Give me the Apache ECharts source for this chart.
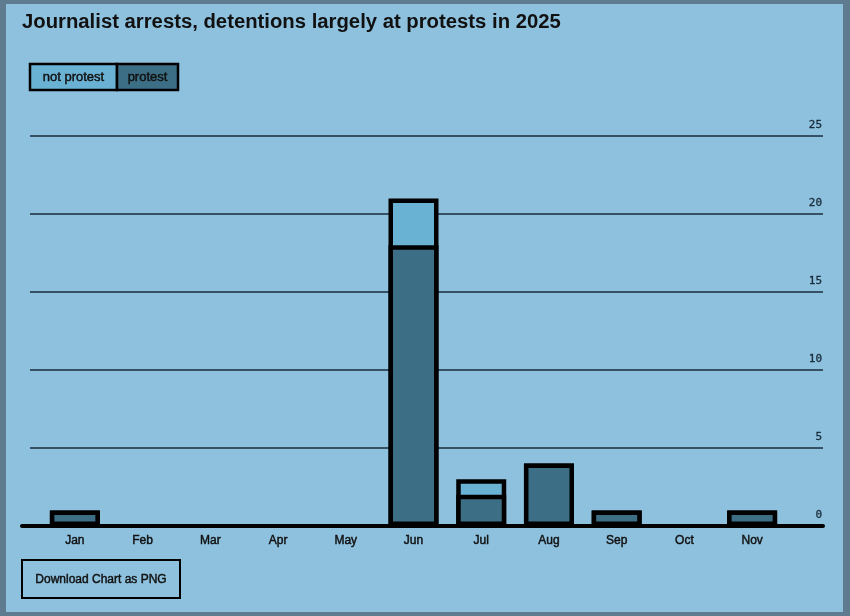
<!DOCTYPE html>
<html>
<head>
<meta charset="utf-8">
<script src="https://cdn.jsdelivr.net/npm/echarts@6/dist/echarts.min.js"></script>
<style>
html,body{margin:0;padding:0;background:#5f7b8f;}
#c{width:850px;height:616px;}
</style>
</head>
<body>
<div id="c"></div>
<script>
const titleText = "Journalist arrests, detentions largely at protests in 2025";
const months = ["Jan","Feb","Mar","Apr","May","Jun","Jul","Aug","Sep","Oct","Nov"];
const protest =    [1,0,0,0,0,18,2,4,1,0,1];
const notProtest = [0,0,0,0,0,3,1,0,0,0,0];
const seriesNames = ["not protest","protest"];
const yTicks = [0,5,10,15,20,25];

const C_BG = "#8dc1de";
const C_PROTEST = "#3c6f85";
const C_NOT = "#6ab2d4";
const C_FRAME = "#5f7b8f";

const chart = echarts.init(document.getElementById('c'), null, {renderer:'canvas'});
const gTop = 136, gBottom = 90;
const yMax = yTicks[yTicks.length-1];
const yInt = yTicks[1]-yTicks[0];
const nz = v => v === 0 ? null : v;
// stacked totals (protest + not protest) so the light segment sits on top of the dark one
const totals = protest.map((v,i) => v + notProtest[i]);
const itemStyle = c => ({color:c, borderColor:'#000', borderWidth:4.5});
const font = (s, w) => (w||'') + ' ' + s + 'px "Liberation Sans", Arial, sans-serif';
const heavy = {stroke:'#111', lineWidth:0.45};

const option = {
  backgroundColor: C_FRAME,
  animation:false,
  graphic: [
    {type:'rect', z:-10, shape:{x:6,y:4,width:837,height:608}, style:{fill:C_BG}},
    {type:'text', left:22, top:12, style:{text:titleText, font:font(20.3,'bold'), fill:'#111'}},
    {type:'rect', shape:{x:30,y:64,width:87,height:26}, style:{fill:C_NOT, stroke:'#000', lineWidth:2.5}},
    {type:'rect', shape:{x:117,y:64,width:61,height:26}, style:{fill:C_PROTEST, stroke:'#000', lineWidth:2.5}},
    {type:'text', x:73.5, y:77, style:Object.assign({text:seriesNames[0], font:font(13), fill:'#111', align:'center', verticalAlign:'middle'}, heavy)},
    {type:'text', x:147.5, y:77, style:Object.assign({text:seriesNames[1], font:font(13), fill:'#111', align:'center', verticalAlign:'middle'}, heavy)},
    {type:'rect', shape:{x:22,y:560,width:158,height:38}, style:{fill:'none', stroke:'#000', lineWidth:2}},
    {type:'text', x:101, y:579.5, style:Object.assign({text:'Download Chart as PNG', font:font(12), fill:'#111', align:'center', verticalAlign:'middle'}, heavy)}
  ],
  grid: [
    {left:30, right:27, top:gTop, bottom:gBottom},
    {left:22, right:27, top:gTop, bottom:gBottom},
    {left:41, right:64, top:gTop, bottom:gBottom}
  ],
  xAxis: [
    {gridIndex:0, type:'value', show:false},
    {gridIndex:1, type:'value', axisLine:{show:true, onZero:false, lineStyle:{color:'#000', width:4}}, axisTick:{show:false}, axisLabel:{show:false}, splitLine:{show:false}},
    {gridIndex:2, type:'category', data:months, axisLine:{show:false}, axisTick:{show:false},
     axisLabel:{margin:9, fontSize:12, color:'#111', textBorderColor:'#111', textBorderWidth:0.45, fontFamily:'"Liberation Sans", Arial, sans-serif'}}
  ],
  yAxis: [
    {gridIndex:0, type:'value', min:0, max:yMax, interval:yInt, position:'right',
     axisLine:{show:false}, axisTick:{show:false},
     splitLine:{show:true, lineStyle:{color:'#1a2b3b', width:1.5}},
     axisLabel:{inside:true, margin:1, fontSize:11, color:'#1a2b3b', textBorderColor:'#1a2b3b', textBorderWidth:0.3, fontFamily:'"DejaVu Sans Mono", monospace', verticalAlign:'bottom', padding:[0,0,5,0]}},
    {gridIndex:1, type:'value', min:0, max:yMax, show:false},
    {gridIndex:2, type:'value', min:0, max:yMax, show:false}
  ],
  series: [
    {name:seriesNames[0], type:'bar', xAxisIndex:2, yAxisIndex:2, barWidth:50, barGap:'-100%', z:2, data:totals.map(nz), itemStyle:itemStyle(C_NOT)},
    {name:seriesNames[1], type:'bar', xAxisIndex:2, yAxisIndex:2, barWidth:50, barGap:'-100%', z:3, data:protest.map(nz), itemStyle:itemStyle(C_PROTEST)}
  ]
};
chart.setOption(option);
</script>
</body>
</html>
